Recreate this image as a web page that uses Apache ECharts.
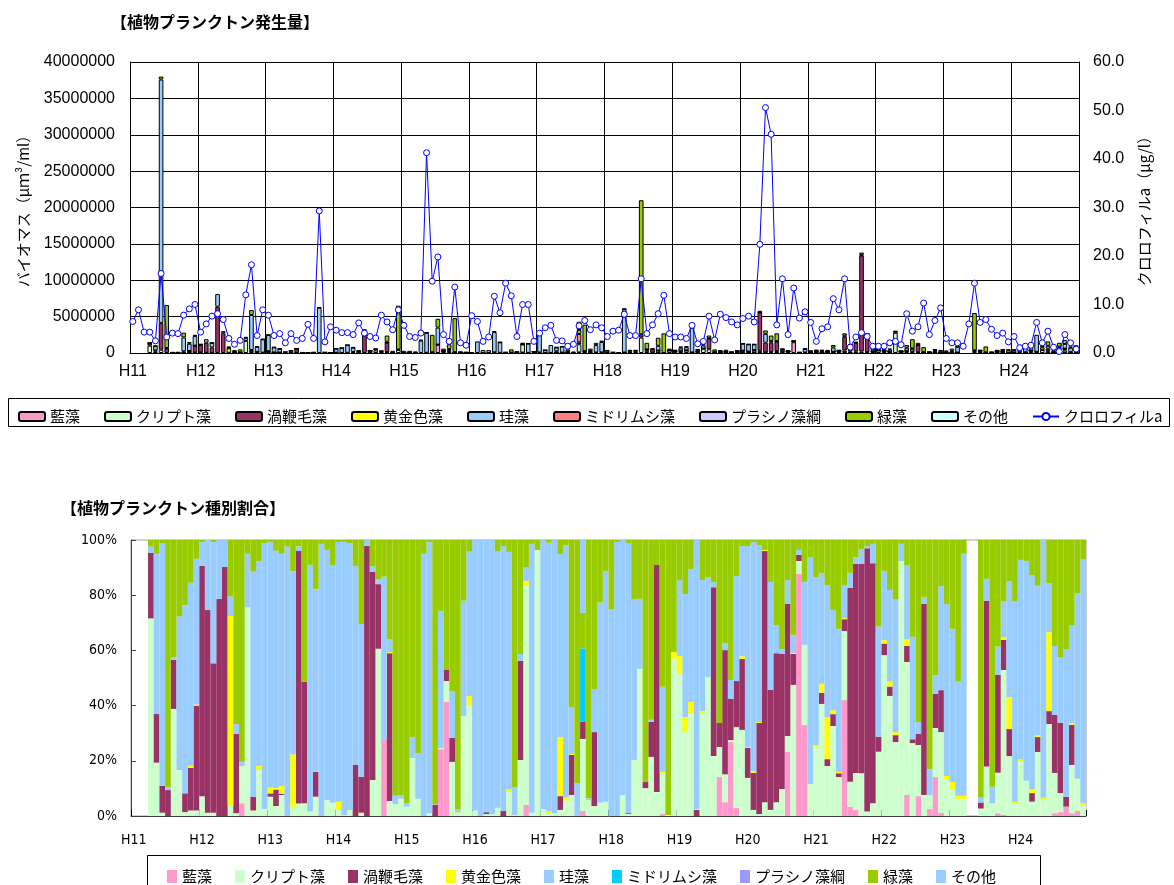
<!DOCTYPE html>
<html><head><meta charset="utf-8">
<script src="https://cdn.jsdelivr.net/npm/echarts@6.0.0/dist/echarts.min.js"></script>
<style>html,body{margin:0;padding:0;background:#fff}#c{width:1174px;height:885px}</style>
</head><body><div id="c"></div>
<script>
// ---- tick labels (fiscal years) ----
const years = ['H11','H12','H13','H14','H15','H16','H17','H18','H19','H20','H21','H22','H23','H24'];

// ---- chlorophyll-a (μg/l), monthly ----
const chlorophyll = [
6.5,8.9,4.3,4.3,2.5,16.4,3.3,4.1,4.0,7.8,9.1,10.0,
4.3,6.0,7.6,8.1,6.9,3.0,1.8,2.6,12.0,18.2,3.6,8.9,
7.8,3.6,4.0,2.1,4.0,2.6,3.0,5.9,3.0,29.3,2.3,5.4,
4.7,4.2,4.2,3.8,6.2,4.1,3.4,3.1,7.8,6.4,4.8,8.9,
5.7,3.4,3.2,4.1,41.3,14.8,19.8,3.8,2.4,13.6,2.1,1.6,
7.7,6.5,2.4,3.3,11.7,8.3,14.4,11.8,3.4,10.0,10.0,2.4,
4.1,5.2,5.7,2.6,2.5,1.4,1.8,5.6,6.7,4.8,5.8,5.2,
3.4,4.5,4.7,8.0,3.6,3.6,15.3,4.0,5.8,8.1,11.9,4.0,
3.3,3.3,3.0,5.7,1.9,2.4,7.6,2.7,8.0,7.3,6.4,5.8,
7.1,7.6,6.4,22.4,50.6,45.1,5.8,15.3,3.8,13.4,7.2,8.5,
6.3,2.4,5.0,5.4,11.2,8.9,15.3,1.2,3.3,4.2,3.4,1.4,
1.4,1.4,2.1,2.4,1.7,8.1,4.5,5.4,10.3,3.8,6.7,9.3,
3.0,2.1,2.1,1.4,6.0,14.4,6.3,6.9,4.9,3.6,4.1,2.3,
3.4,1.1,1.4,1.6,6.3,2.1,4.5,1.2,0.3,3.8,2.1,0.8];

// ---- total biomass (million μm3/ml), monthly ----
const biomassTotalM = [
null,null,null,1.4,1.0,38.0,6.6,0.1,0.1,2.8,1.5,2.5,
1.2,1.9,1.4,8.1,3.0,0.9,0.4,0.5,2.2,5.9,0.9,1.9,
2.5,0.8,0.6,0.15,0.35,0.6,0.1,0.05,0.1,6.3,0.1,0.05,
0.6,0.7,1.1,0.8,0.35,3.2,0.35,0.6,0.3,2.4,0.3,6.5,
0.3,0.3,0.2,1.8,2.8,2.5,4.7,0.6,1.2,4.8,0.15,0.1,
0.05,1.6,0.4,0.4,3.0,1.5,0.1,0.5,0.2,1.4,1.3,0.2,
2.8,0.4,1.1,0.8,0.9,0.5,0.2,4.3,3.9,0.6,1.4,1.7,
0.4,0.1,0.1,6.1,0.4,0.4,21.0,1.4,0.6,2.1,2.7,0.6,
0.4,0.9,0.9,3.5,0.5,1.2,2.4,0.5,0.4,0.45,0.15,0.3,
1.3,1.2,1.2,5.8,3.1,2.4,2.7,0.6,0.4,1.7,0.1,0.6,
0.3,0.4,0.4,0.4,1.1,0.4,2.7,1.2,1.5,13.8,2.7,0.8,
0.6,0.6,0.6,3.0,0.3,1.1,1.9,1.4,0.8,0.2,0.5,0.4,
0.3,0.6,0.9,null,null,5.5,0.4,0.9,0.15,0.4,0.5,0.5,
0.45,0.8,1.0,1.2,2.5,1.2,1.6,0.9,1.4,1.8,0.9,1.0];

// ---- composition shares (%) ----
const shareAizo = [
null,null,null,0,0,0,0,0,0,0,0,0,
0,0,0,0,0,0,0,4.6,0,0,0,0,
0,0,0,0,0,0,0,0,0,0,0,0,
0,0,0,0,0,0,0,0,27.8,0,0,0,
0,0,0,0,0,0,24.2,41.3,0,0,0,0,
0,0,0,0,0,0,0,0,0,4,0,0,
0,0,0,0,0,0,0,1.8,0,0,0,0,
0,0,0,0,0,0,0,0,0,0.7,0,0,
0,0,0,0,0,0,0,14.1,5,26.8,2.9,0,
0,0,0,0,0,0,0,23.2,0,87.7,33,0,
0,0,0,0,0,42,3.3,2.2,0,0,0,0,
0,0,0,0,7.6,0,7.2,0,2.5,14.1,1.1,0,
0,0,0,null,null,0,0,0,1,0.4,0,0,
0,0,0,0,0,0,1,1.4,3.4,1,1.8,0];
const shareCrypto = [
null,null,null,71.6,19.3,1.2,0,38.8,16.7,1.4,2,2,
7.2,1.2,1.2,0,0,3.6,1,13.5,75.6,2,16.7,2.5,
7,3.6,7.6,0,3,4.5,4.6,1.6,7,0,5.8,4.8,
2.2,0,2.2,0,1.2,0,13,60.6,0,5.4,4.3,6.3,
3.4,21,6.2,0,1,0,0.4,7.6,19.6,0.8,36.2,39.9,
2,0,0.7,0.6,3,0,9,0.4,20.3,79.7,1.2,96.4,
2.5,1.1,1.1,2.2,5.6,7.6,0,26,5.8,3.6,4.8,5.2,
0,0,7.6,0.8,20.3,53.3,10.1,21.4,8.7,14.9,0.4,57,
51.6,30.8,37.1,0,37.3,50,21.7,10.9,10.1,0.7,29.3,31.2,
13.8,2.2,0.7,5,2.2,5,9.8,5.8,47.5,4.7,29,11.6,
24.9,40.6,18.1,32.6,14.1,25,9.1,13.4,15.5,1.6,4.6,23.3,
58.3,43.5,26.8,92.4,48.2,26.4,18.5,7.6,5,17.8,29.3,13.4,
9.8,6.2,6.2,null,null,2.7,17.9,4.6,14.7,52.5,21.7,4.6,
19.8,12.8,5.2,23.2,6,33.3,14.6,6.9,0,17.5,11.7,3.6];
const shareDino = [
null,null,null,23.8,17.6,9.7,9.4,17.8,0,6.8,15.5,38,
83.4,73.4,54.1,78.6,90.2,0,28.7,0,0,5,0,0,
1.2,6,0.4,0,0,91.5,44.1,0,9,0,0,0,
0,0,0,18.5,13,97.8,75.4,23.4,0,53.6,0,0,
0,0,0,0,0,4,0,4,8.7,0,0,0,
0,0,0.7,0,0,1.8,0,0,35.9,0,0,0,
0,0,0,5,0,14.5,0,6.3,0,26.8,0,0,
0,0,0,0.4,0,0,2.2,12.7,82.2,0,0,0,
0,0,0,2.2,0,0,61.2,8.7,45,14.9,16.7,25.7,
10.9,13.4,33,91,43.5,54,48.9,47.8,11.2,2.2,0,0,
0,4,2.5,4.3,1.4,4.3,70.3,75.7,75.8,95.4,87,5.4,
4.2,3.4,2.5,0,5.8,1.4,4,69.2,0,12.3,15.2,0,
0,0,0,null,null,2.2,60.1,0,35.4,10.9,9.8,0,
0,0,3.1,5.4,0,4.7,21,25.5,3.6,14.5,0,0];
const shareChryso = [
null,null,null,0,0,0,0,0,0,0,0.7,0.4,
0,0,0,0,0,68.9,0,0,0,0,1.4,0,
2,0.5,2.9,0,19.4,0,0,0,0,0,0,0,
3,0.4,0,0,0,0,0,0,0,0.4,0,0,
0,0,0,0,0,0,0,0,0,0.5,0,3.6,
0,0,0,0,0,0,0.7,0,0,1.5,0,0,
0,0.7,0,21.3,1.1,0.4,0,0,0,0,0,0,
0,0,0,0,0,0,0,0,0,0.4,0,2.4,
6.4,5,4.2,0.3,0.7,0.4,0,0,0,0,0,1,
0.3,0.7,0.4,0.4,0,0,0,0,0.4,0,0,0,
0.8,3.3,15.2,1.4,0.4,0.4,0,0,0,0,0,0,
1.2,1.8,1.1,0,2.4,0,0,0,0,0,0,1.1,
2.5,1.1,1.1,null,null,0,0,0,0,1,11.5,0.6,
0.7,0,1.4,0.7,0.6,28.6,0,0,0,0.6,0,1];
const shareDiatom = [
null,null,null,2.2,58,88,1,1,55.6,68.2,66.3,52.8,
8.7,25.4,44,21.4,9.8,7,3.6,1.6,19.4,81.5,74.3,96.3,
89.1,86,84.1,97.6,66.3,1.7,0,89.4,66.2,98.6,90.6,86.1,
94.1,98.9,96.6,72.1,55.4,2.2,2,1.7,58.9,4.7,3,1.1,
1.2,7.6,16.4,95,98.3,0.3,49.7,0,17,1.2,41.8,52.3,
98,100,98.6,99.4,92.8,96,86,9.9,2.5,4.8,97.4,0,
97.5,97.2,98.9,66.4,91.5,17,12,0,0.6,15.6,72.5,83.6,
75,99.3,92.4,97.6,58.3,25.4,0,0.8,0,30.8,0,0,
27.5,44.6,48.2,97.5,47.5,36.2,1.8,0,2.5,6.9,38,39.9,
72.8,83,64.1,0,39.1,10.2,1.8,8.7,6.5,1.8,22.8,82.2,
60.9,40.1,47.9,36.3,51.9,12,5.4,2.5,5.4,0.8,7,39.9,
25.1,33.2,48.2,6.2,26.9,37.1,4.3,2.5,9.4,6.9,37.7,62.3,
55.5,41.3,87.7,null,null,1.8,7.9,6,10.3,12.9,42.1,72.5,
72.3,79.5,77.6,54.1,93.4,17.8,25,23.6,53.3,35.4,67.1,88.5];
const shareEuglena = [
null,null,null,0,0,0,0,0,0,0,0,0,
0,0,0,0,0,0,0,0,0,0,0,0,
0,0,0,0,0,0,0,0,0,0,0,0,
0,0,0,0,0.3,0,0,0,0,0,0,0,
0,0,0,0,0,0,0,0,0,0,0,0,
0,0,0,0,0,0,0,0,0,0,0,0,
0,0,0,0,0,0,0,26.4,0,0,0,0,
0,0,0,0,0,0,0,0,0,0,0,0,
0,0,0,0,0,0,0,0,0,0,0,0,
0,0,0,0,0,0,0,0,0,0,0,0,
0,0,0,0,0,0,0,0,0,0,0,0,
0,0,0,0,0,0,0,0,0,0,0,0,
0,0,0,null,null,0,0,0,0,0,0,0,
0,0,0,0,0,0,0,0,0,0,0,0];
const sharePrasino = [
null,null,null,0,0,0,0,0,0,0,0,0,
0,0,0,0,0,0,0,0,0,0,0,0,
0,0,0,0,0,0,0,0,0,0,0,0,
0,0,0,0,0,0,0,0,0,0,0,0,
0,0,0,0,0,0,0,0,0,0,0,0,
0,0,0,0,0,0,0,0,0,0,0,0,
0,0,0,0,0,0,0,0,0,0,0,0,
0,0,0,0,0,0,0,0,0,0,0,0,
0,0,0,0,0,0,0,0,0,0,0,0,
0,0,0,0,0,0,0,0,0,0,0,0,
0,0,0,0,0,0,0,0,0,0,0,0,
0,0,0,0,0,0,0,0,0,0,0,0,
0,0,0,null,null,0,0,0,0,0,0,0,
0,0,0,0,0,0,0,0,0,0,0,0];
const shareGreen = [
null,null,null,2.4,5,1.1,89.6,42.4,27.7,23.6,15.5,6.8,
0.7,0,0.7,0,0,20.5,66.7,80.3,5,11.5,7.6,1.2,
0.7,3.9,5,2.4,11.3,2.3,51.3,9,17.8,1.4,3.6,9.1,
0.7,0.7,1.2,9.4,30.1,0,9.6,14.3,13.3,35.9,92.7,92.6,
95.4,71.4,77.4,5,0.7,95.7,25.7,47.1,54.7,97.5,22,4.2,
0,0,0,0,4.2,2.2,4.3,89.7,41.3,10,1.4,3.6,
0,1,0,5.1,1.8,60.5,88,12.8,93.6,54,22.7,11.2,
25,0.7,0,1.2,21.4,21.3,87.7,65.1,9.1,53.2,99.6,40.6,
14.5,19.6,10.5,0,14.5,13.4,15.3,66.3,37.4,50.7,13.1,2.2,
2.2,0.7,1.8,3.6,15.2,30.8,39.5,14.5,34.4,3.6,15.2,6.2,
13.4,12,16.3,25.4,32.2,16.3,11.9,6.2,3.3,2.2,1.4,31.4,
11.2,18.1,21.4,1.4,9.1,35.1,66,20.7,83.1,48.9,16.7,23.2,
32.2,51.4,5,null,null,93.3,14.1,89.4,38.6,22.3,14.9,22.3,
7.2,7.7,12.7,16.6,0,15.6,38.4,42.6,39.7,31,19.4,6.9];
const shareOther = [
null,null,null,0,0,0,0,0,0,0,0,0,
0,0,0,0,0,0,0,0,0,0,0,0,
0,0,0,0,0,0,0,0,0,0,0,0,
0,0,0,0,0,0,0,0,0,0,0,0,
0,0,0,0,0,0,0,0,0,0,0,0,
0,0,0,0,0,0,0,0,0,0,0,0,
0,0,0,0,0,0,0,26.3,0,0,0,0,
0,0,0,0,0,0,0,0,0,0,0,0,
0,0,0,0,0,0,0,0,0,0,0,0,
0,0,0,0,0,0,0,0,0,0,0,0,
0,0,0,0,0,0,0,0,0,0,0,0,
0,0,0,0,0,0,0,0,0,0,0,0,
0,0,0,null,null,0,0,0,0,0,0,0,
0,0,0,0,0,0,0,0,0,0,0,0];

// ---- groups (names, colours) ----
const groupNames = ['藍藻','クリプト藻','渦鞭毛藻','黄金色藻','珪藻','ミドリムシ藻','プラシノ藻綱','緑藻','その他'];
const groupShares = [shareAizo,shareCrypto,shareDino,shareChryso,shareDiatom,shareEuglena,sharePrasino,shareGreen,shareOther];
const topColors = ['#FF99CC','#CCFFCC','#993366','#FFFF00','#99CCFF','#FF8080','#CCCCFF','#99CC00','#CCFFFF'];
const bottomColors = ['#FF99CC','#CCFFCC','#993366','#FFFF00','#99CCFF','#00CCFF','#9999FF','#99CC00','#99CCFF'];

// ---- build ----
const categories = [];
years.forEach(y => { for (let m = 0; m < 12; m++) categories.push(m === 0 ? y : y + '-' + (m + 1)); });
const N = categories.length;
const sums = [];
for (let i = 0; i < N; i++) {
  let s = 0, any = false;
  groupShares.forEach(a => { if (a[i] != null) { s += a[i]; any = true; } });
  sums.push(any ? s : null);
}
const JP = '"Noto Sans CJK JP", sans-serif';
const TXT = '"Liberation Sans", Arial, sans-serif';
const NARROW = '"Liberation Sans Narrow", "DejaVu Sans Condensed", "Liberation Sans", sans-serif';
const ZW = '\u200b';

const series = [];
groupNames.forEach((name, g) => {
  series.push({
    name: name, type: 'bar', stack: 'top', xAxisIndex: 0, yAxisIndex: 0,
    barCategoryGap: '18%',
    itemStyle: { color: topColors[g], borderColor: '#000', borderWidth: 1 },
    data: categories.map((c, i) => {
      const t = biomassTotalM[i], s = groupShares[g][i];
      if (t == null || s == null || !s) return null;
      return t * 1e6 * s / sums[i];
    })
  });
});
series.push({
  name: 'クロロフィルa', type: 'line', xAxisIndex: 0, yAxisIndex: 1, z: 10,
  data: chlorophyll, symbol: 'circle', symbolSize: 6, showAllSymbol: true,
  itemStyle: { color: '#FFFFFF', borderColor: '#0000FF', borderWidth: 1 },
  lineStyle: { color: '#0000FF', width: 1 }
});
groupNames.forEach((name, g) => {
  series.push({
    name: name + ZW, type: 'bar', stack: 'bottom', xAxisIndex: 1, yAxisIndex: 2,
    barCategoryGap: '0%',
    itemStyle: { color: bottomColors[g] },
    data: categories.map((c, i) => {
      const s = groupShares[g][i];
      if (s == null || sums[i] == null) return null;
      return s / sums[i] * 100;
    })
  });
});

const yearFmt = v => v.split('-')[0];

const option = {
  animation: false,
  backgroundColor: '#fff',
  title: [
    { text: '【植物プランクトン発生量】', left: 106, top: 9, textStyle: { fontFamily: JP, fontSize: 16, fontWeight: 'bold', color: '#000' } },
    { text: '【植物プランクトン種別割合】', left: 56, top: 495, textStyle: { fontFamily: JP, fontSize: 16, fontWeight: 'bold', color: '#000' } }
  ],
  grid: [
    { left: 130, top: 62, width: 949, height: 291 },
    { left: 131, top: 540, width: 955, height: 276, show: true, borderColor: '#a0a0a0', borderWidth: 1 }
  ],
  xAxis: [
    { type: 'category', gridIndex: 0, data: categories, boundaryGap: true,
      axisLine: { lineStyle: { color: '#000' } }, axisTick: { show: false },
      axisLabel: { interval: 11, formatter: yearFmt, fontFamily: TXT, fontSize: 16, color: '#000', margin: 11 },
      splitLine: { show: true, interval: 11, lineStyle: { color: '#000', width: 1 } } },
    { type: 'category', gridIndex: 1, data: categories, boundaryGap: true,
      axisLine: { lineStyle: { color: '#404040' } },
      axisTick: { show: true, inside: true, interval: 11, length: 6, lineStyle: { color: '#000' } },
      axisLabel: { interval: 11, formatter: yearFmt, fontFamily: NARROW, fontSize: 14, color: '#000', margin: 17 },
      splitLine: { show: false } }
  ],
  yAxis: [
    { type: 'value', gridIndex: 0, min: 0, max: 40000000, interval: 5000000,
      name: 'バイオマス（μｍ³/ml）', nameLocation: 'middle', nameRotate: 90, nameGap: 99,
      nameTextStyle: { fontFamily: JP, fontSize: 15, color: '#000' },
      axisLine: { show: true, lineStyle: { color: '#000' } }, axisTick: { show: false },
      axisLabel: { fontFamily: TXT, fontSize: 16, color: '#000', margin: 15, formatter: v => String(v) },
      splitLine: { show: true, lineStyle: { color: '#000', width: 1 } } },
    { type: 'value', gridIndex: 0, position: 'right', min: 0, max: 60, interval: 10,
      name: 'クロロフィルa（μg/l）', nameLocation: 'middle', nameRotate: 90, nameGap: 58,
      nameTextStyle: { fontFamily: JP, fontSize: 15, color: '#000' },
      axisLine: { show: true, lineStyle: { color: '#000' } }, axisTick: { show: false },
      axisLabel: { fontFamily: TXT, fontSize: 16, color: '#000', margin: 14, formatter: v => v.toFixed(1) },
      splitLine: { show: false } },
    { type: 'value', gridIndex: 1, min: 0, max: 100, interval: 20,
      axisLine: { show: true, lineStyle: { color: '#404040' } },
      axisTick: { show: true, inside: true, length: 5, lineStyle: { color: '#404040' } },
      axisLabel: { fontFamily: NARROW, fontSize: 14, color: '#000', margin: 14, formatter: '{value}%' },
      splitLine: { show: false } }
  ],
  legend: [
    { left: 13, top: 404, width: 1160, itemGap: 24, itemWidth: 26, itemHeight: 9, selectedMode: false,
      textStyle: { fontFamily: JP, fontSize: 15, color: '#000' },
      data: groupNames.concat(['クロロフィルa']) },
    { left: 162, top: 864, width: 1000, itemGap: 23, itemWidth: 10, itemHeight: 13, icon: 'rect', selectedMode: false,
      textStyle: { fontFamily: JP, fontSize: 15, color: '#000' },
      data: groupNames.map(n => n + ZW) }
  ],
  graphic: [
    { type: 'rect', shape: { x: 8.5, y: 398.5, width: 1161, height: 28 }, style: { fill: 'none', stroke: '#000', lineWidth: 1 }, z: 0 },
    { type: 'rect', shape: { x: 147.5, y: 855.5, width: 893, height: 40 }, style: { fill: 'none', stroke: '#000', lineWidth: 1 }, z: 0 }
  ],
  series: series
};
const chart = echarts.init(document.getElementById('c'), null, { renderer: 'canvas' });
chart.setOption(option);
</script></body></html>
